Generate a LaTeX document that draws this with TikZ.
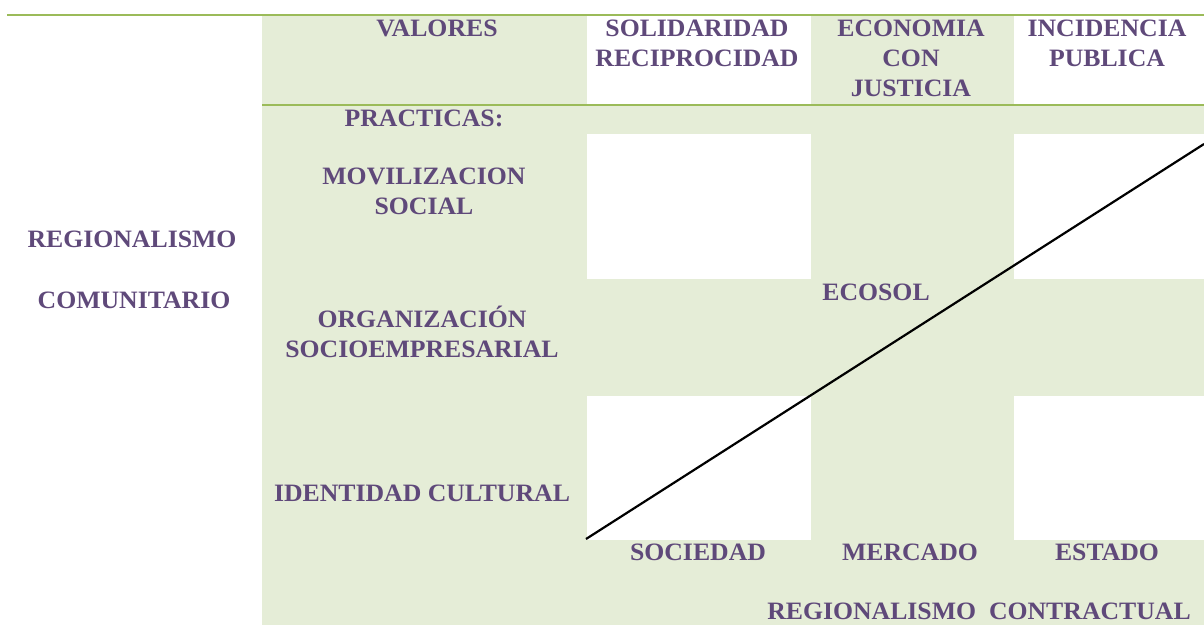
\documentclass[tikz,border=0pt]{standalone}
\usepackage{fontspec}
\setmainfont{Liberation Serif}[FakeStretch=1.03]
\definecolor{cellgreen}{HTML}{E5EDD7}
\definecolor{rulegreen}{HTML}{9BBB59}
\definecolor{labelpurple}{HTML}{5F497A}
\begin{document}
\begin{tikzpicture}[x=1pt,y=-1pt,
  lbl/.style={text=labelpurple,font=\fontsize{25}{30}\selectfont\bfseries,
    inner sep=0pt,outer sep=0pt,align=center,anchor=north},
  band/.style={fill=cellgreen,draw=none},
  hrule/.style={draw=rulegreen,line width=2pt}]
\useasboundingbox (0,0) rectangle (1204,625);
% green bands
\fill[band] (262,16) rectangle (587,625);
\fill[band] (811,16) rectangle (1014,625);
\fill[band] (262,105) rectangle (1204,134);
\fill[band] (262,279) rectangle (1204,396);
\fill[band] (262,540) rectangle (1204,625);
% rules
\coordinate (t1) at (7,15);
\coordinate (t2) at (1204,15);
\coordinate (m1) at (262,105);
\coordinate (m2) at (1204,105);
\draw[hrule] (t1) -- (t2);
\draw[hrule] (m1) -- (m2);
% labels
\node[lbl] (valores) at (437,20) {VALORES};
\node[lbl] (solid) at (697,20) {SOLIDARIDAD\\RECIPROCIDAD};
\node[lbl] (econ) at (911,20) {ECONOMIA\\CON\\JUSTICIA};
\node[lbl] (incid) at (1107,20) {INCIDENCIA\\PUBLICA};
\node[lbl] (pract) at (424,110) {PRACTICAS:};
\node[lbl] (movil) at (424,168) {MOVILIZACION\\SOCIAL};
\node[lbl] (reg) at (132,231) {REGIONALISMO};
\node[lbl] (com) at (134,292) {COMUNITARIO};
\node[lbl] (ecosol) at (876,284) {ECOSOL};
\node[lbl] (org) at (422,306) {ORGANIZACIÓN\\SOCIOEMPRESARIAL};
\node[lbl] (ident) at (422,485) {IDENTIDAD CULTURAL};
\node[lbl] (soc) at (698,544) {SOCIEDAD};
\node[lbl] (merc) at (910,544) {MERCADO};
\node[lbl] (est) at (1107,544) {ESTADO};
\node[lbl] (contr) at (979,603) {REGIONALISMO\ \ CONTRACTUAL};
% diagonal
\coordinate (d1) at (586,539);
\coordinate (d2) at (1204,144);
\draw[black,line width=2.2pt] (d1) -- (d2);
\end{tikzpicture}
\end{document}
